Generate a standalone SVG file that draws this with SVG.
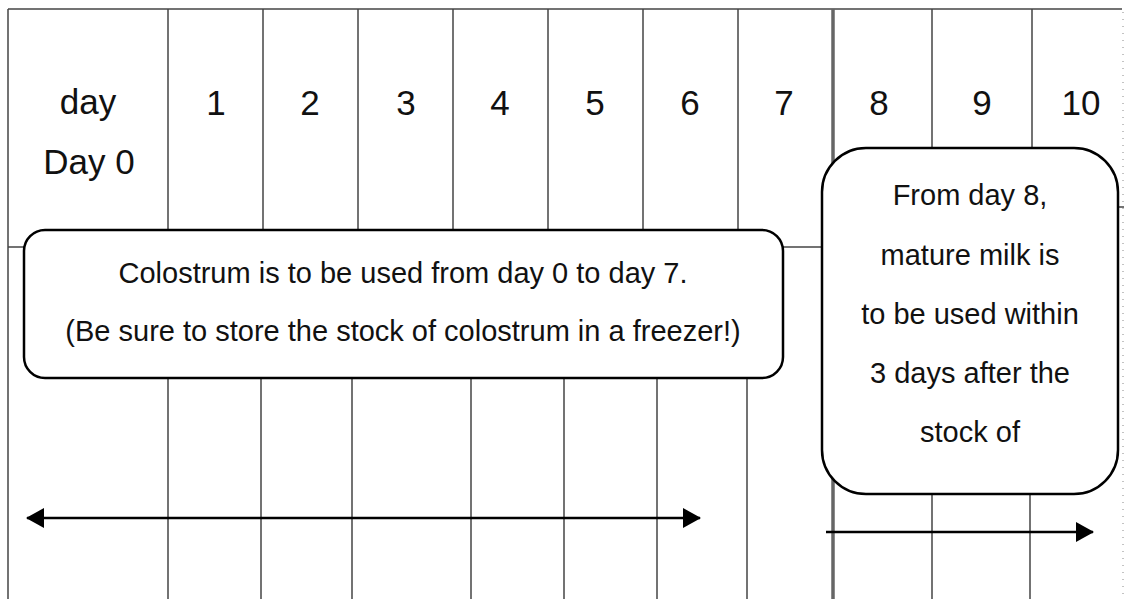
<svg xmlns="http://www.w3.org/2000/svg" width="1125" height="599" viewBox="0 0 1125 599">
<defs>
<style>
.grid{stroke:#444;stroke-width:1.5;fill:none}
.thick{stroke:#666;stroke-width:3.5;fill:none}
.box{fill:#fff;stroke:#000;stroke-width:2.5}
.hd{font-family:"Liberation Sans",Arial,sans-serif;font-size:35px;fill:#111;text-anchor:middle}
.tx{font-family:"Liberation Sans",Arial,sans-serif;font-size:29px;fill:#111;text-anchor:middle}
.arr{stroke:#000;stroke-width:2.5;fill:none}
</style>
<marker id="ah" viewBox="0 0 18 20" refX="17" refY="10" markerWidth="18" markerHeight="20" markerUnits="userSpaceOnUse" orient="auto-start-reverse">
<path d="M0,0 L18,10 L0,20 Z" fill="#000"/>
</marker>
</defs>
<rect width="1125" height="599" fill="#fff"/>
<g id="grid">
<line class="grid" x1="8" y1="9" x2="1122" y2="9"/>
<line class="grid" x1="8" y1="9" x2="8" y2="599"/>
<line class="grid" x1="168" y1="9" x2="168" y2="599"/>
<line class="grid" x1="263" y1="9" x2="263" y2="230"/>
<line class="grid" x1="358" y1="9" x2="358" y2="230"/>
<line class="grid" x1="453" y1="9" x2="453" y2="230"/>
<line class="grid" x1="548" y1="9" x2="548" y2="230"/>
<line class="grid" x1="643" y1="9" x2="643" y2="230"/>
<line class="grid" x1="738" y1="9" x2="738" y2="230"/>
<line class="grid" x1="932" y1="9" x2="932" y2="150"/>
<line class="grid" x1="1032" y1="9" x2="1032" y2="150"/>
<line class="grid" x1="261" y1="378" x2="261" y2="599"/>
<line class="grid" x1="352" y1="378" x2="352" y2="599"/>
<line class="grid" x1="471" y1="378" x2="471" y2="599"/>
<line class="grid" x1="564" y1="378" x2="564" y2="599"/>
<line class="grid" x1="657" y1="378" x2="657" y2="599"/>
<line class="grid" x1="747" y1="378" x2="747" y2="599"/>
<line class="grid" x1="932" y1="494" x2="932" y2="599"/>
<line class="grid" x1="1030" y1="494" x2="1030" y2="599"/>
<line class="grid" x1="8" y1="247" x2="822" y2="247"/>
<line class="grid" x1="1118" y1="207" x2="1124" y2="207"/>
<line class="thick" x1="833" y1="9" x2="833" y2="599"/>
<line stroke="#888" stroke-width="1" stroke-dasharray="1 6" x1="1123" y1="12" x2="1123" y2="599"/>
</g>
<g id="header">
<text class="hd" x="88" y="114">day</text>
<text class="hd" x="89" y="174">Day 0</text>
<text class="hd" x="216" y="115">1</text>
<text class="hd" x="310" y="115">2</text>
<text class="hd" x="406" y="115">3</text>
<text class="hd" x="500" y="115">4</text>
<text class="hd" x="595" y="115">5</text>
<text class="hd" x="690" y="115">6</text>
<text class="hd" x="784" y="115">7</text>
<text class="hd" x="879" y="115">8</text>
<text class="hd" x="982" y="115">9</text>
<text class="hd" x="1081" y="115">10</text>
</g>
<g id="connectors">
<line class="arr" x1="27" y1="518" x2="700" y2="518" marker-start="url(#ah)" marker-end="url(#ah)"/>
<line class="arr" x1="826" y1="532" x2="1093" y2="532" marker-end="url(#ah)"/>
</g>
<g id="colostrum">
<rect class="box" x="24" y="230" width="759" height="148" rx="21" ry="21"/>
<text class="tx" x="403" y="283">Colostrum is to be used from day 0 to day 7.</text>
<text class="tx" x="403" y="341">(Be sure to store the stock of colostrum in a freezer!)</text>
</g>
<g id="mature">
<rect class="box" x="822" y="148" width="296" height="346" rx="44" ry="44"/>
<text class="tx" x="970" y="205">From day 8,</text>
<text class="tx" x="970" y="265">mature milk is</text>
<text class="tx" x="970" y="324">to be used within</text>
<text class="tx" x="970" y="383">3 days after the</text>
<text class="tx" x="970" y="442">stock of</text>
</g>
</svg>
